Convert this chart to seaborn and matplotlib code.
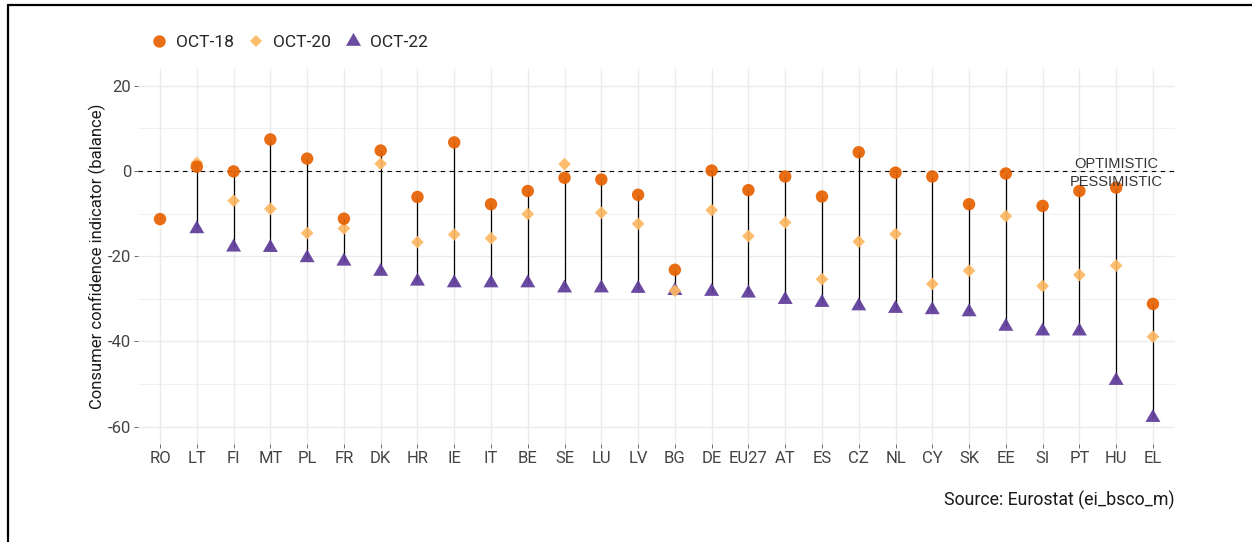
import numpy as np
import pandas as pd
import seaborn as sns
import matplotlib.pyplot as plt
from matplotlib.lines import Line2D
from matplotlib.ticker import MultipleLocator

nan = np.nan

countries = ["RO", "LT", "FI", "MT", "PL", "FR", "DK", "HR", "IE", "IT", "BE", "SE", "LU", "LV",
             "BG", "DE", "EU27", "AT", "ES", "CZ", "NL", "CY", "SK", "EE", "SI", "PT", "HU", "EL"]
oct_18 = [-11.3, 1.0, -0.1, 7.4, 2.9, -11.2, 4.8, -6.1, 6.7, -7.8, -4.7, -1.6, -2.0, -5.6,
          -23.2, 0.1, -4.5, -1.3, -6.0, 4.4, -0.4, -1.3, -7.8, -0.6, -8.2, -4.7, -3.9, -31.2]
oct_20 = [nan, 1.9, -7.0, -8.9, -14.6, -13.5, 1.7, -16.7, -14.9, -15.8, -10.1, 1.6, -9.8, -12.4,
          -28.1, -9.2, -15.3, -12.1, -25.4, -16.6, -14.8, -26.5, -23.4, -10.6, -27.0, -24.4, -22.2, -38.9]
oct_22 = [nan, -13.6, -17.9, -18.0, -20.4, -21.2, -23.6, -25.9, -26.3, -26.3, -26.3, -27.5, -27.5, -27.6,
          -28.1, -28.3, -28.7, -30.2, -30.9, -31.7, -32.3, -32.6, -33.1, -36.5, -37.6, -37.6, -49.2, -57.9]
periods = ["OCT-18", "OCT-20", "OCT-22"]
colors = ["#e66101", "#fdb863", "#5e3c99"]
yticks = [-60, -40, -20, 0, 20]

wide = pd.DataFrame({"country": countries, "OCT-18": oct_18, "OCT-20": oct_20, "OCT-22": oct_22})
# triangles drawn first, circles end up on top
df = wide.melt(id_vars="country", value_vars=periods[::-1],
               var_name="period", value_name="balance").dropna()

sns.set_theme(style="whitegrid")
plt.rcParams["font.family"] = ["Roboto", "DejaVu Sans"]
plt.rcParams["axes.unicode_minus"] = False

fig = plt.figure(figsize=(12.52, 5.42), dpi=100)
ax = fig.add_axes([0.1102, 0.1815, 0.8283, 0.6917])

# segments OCT-18 -> OCT-22 (also fixes category order)
ax.vlines(wide["country"], wide["OCT-18"], wide["OCT-22"], color="black", lw=0.9, zorder=2)
ax.axhline(0, color="black", lw=0.8, ls=(0, (4, 4)), zorder=1.5)

tri = [(0, 1), (-0.866, -0.5), (0.866, -0.5)]
sns.scatterplot(data=df, x="country", y="balance", hue="period", style="period", size="period",
                hue_order=periods, style_order=periods, size_order=periods, palette=colors,
                markers={"OCT-18": "o", "OCT-20": "D", "OCT-22": tri},
                sizes={"OCT-18": 80, "OCT-20": 42, "OCT-22": 155},
                linewidth=0, alpha=0.92, ax=ax, zorder=3)

hu = countries.index("HU")
ax.text(hu, 0.6, "OPTIMISTIC", ha="center", va="baseline", fontsize=10.5,
        family="Liberation Sans", color="#333333")
ax.text(hu, -3.45, "PESSIMISTIC", ha="center", va="baseline", fontsize=10.5,
        family="Liberation Sans", color="#333333")

ax.set_xlim(-0.6, len(countries) - 0.4)
ax.set_ylim(-64, 24)
ax.set_yticks(yticks)
ax.yaxis.set_minor_locator(MultipleLocator(10))
ax.grid(which="major", color="#ebebeb", lw=1.0)
ax.grid(which="minor", axis="y", color="#ebebeb", lw=0.5)
for s in ax.spines.values():
    s.set_visible(False)
ax.tick_params(axis="both", which="major", bottom=True, left=True, length=3, width=0.6,
               color="#555555", labelcolor="#444444", labelsize=12, pad=2)
ax.tick_params(which="minor", length=0)
ax.set_xlabel("")
ax.set_ylabel("Consumer confidence indicator (balance)", fontsize=12, color="#1a1a1a")
ax.yaxis.set_label_coords(-0.031, 0.5)

sns.move_legend(ax, "center left", bbox_to_anchor=(0.1204, 0.9225), bbox_transform=fig.transFigure,
                ncol=3, frameon=False, title=None, fontsize=12.5, handlelength=1.0,
                handletextpad=0.45, columnspacing=0.8, borderpad=0, borderaxespad=0)

fig.text(0.9385, 1 - 506 / 542, "Source: Eurostat (ei_bsco_m)", ha="right", va="baseline",
         fontsize=12.8, color="#1a1a1a")

# screenshot frame on left and top
fig.add_artist(Line2D([8 / 1252, 8 / 1252], [0, 1 - 5 / 542], transform=fig.transFigure,
                      color="black", lw=1.6))
fig.add_artist(Line2D([8 / 1252, 1], [1 - 5 / 542, 1 - 5 / 542], transform=fig.transFigure,
                      color="black", lw=1.6))

fig.savefig("out.png", dpi=100)
